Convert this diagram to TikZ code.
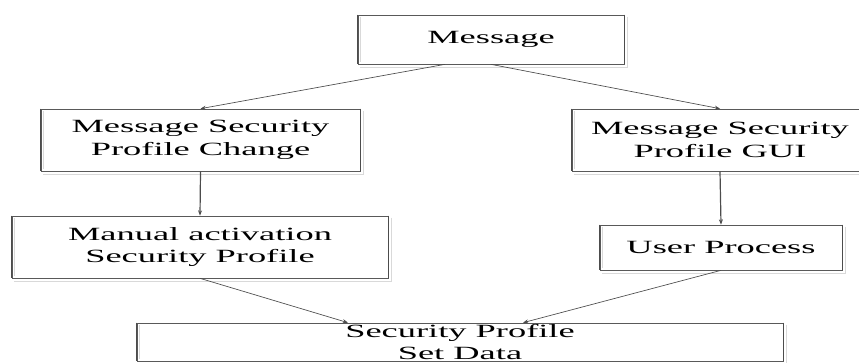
\documentclass[tikz,border=0pt]{standalone}
\usepackage{fontspec}
\setmainfont{Liberation Serif}[FakeStretch=1.95]
\usetikzlibrary{arrows.meta,calc}

\tikzset{
  box/.style={draw=black!65, line width=0.5pt, fill=white, align=center,
    inner sep=0pt, font=\fontsize{14}{17}\selectfont},
  link/.style={draw=black!70, line width=0.5pt,
    -{Stealth[length=4pt,width=3pt]}},
  stem/.style={link, line width=0.9pt},
  sidebar/.style={draw=black!70, line width=1.2pt},
  rim/.style={draw=black!15, line width=1pt}
}

\begin{document}
\begin{tikzpicture}[x=0.75pt,y=-0.75pt]
\useasboundingbox (0,0) rectangle (859,362);
% boxes
\node[box, minimum width=199.5pt, minimum height=36.75pt] (msg) at (491,39.5) {Message};
\node[box, minimum width=239.25pt, minimum height=46.5pt] (chg) at (200.5,140) {Message Security\\Profile Change};
\node[box, minimum width=222pt, minimum height=46.5pt] (gui) at (720,140) {Message Security\\Profile GUI};
\node[box, minimum width=282pt, minimum height=46.5pt] (man) at (200,247) {Manual activation\\Security Profile};
\node[box, minimum width=181.5pt, minimum height=33.75pt] (usr) at (721,247.5) {User Process};
\node[box, minimum width=484.5pt, minimum height=28.5pt] (set) at (460,342) {Security Profile\\Set Data};
% borders
\foreach \n in {msg,chg,gui,man,usr,set} {
  \draw[rim] ($(\n.north east)+(3,2)$) |- ($(\n.south west)+(2,3)$);
  \draw[rim] ($(\n.north west)+(3,2)$) -- ($(\n.south west)+(3,-2)$);
  \draw[sidebar] (\n.north west) -- (\n.south west) (\n.north east) -- (\n.south east);
}
% connectors
\draw[link] ($(msg.south)+(-46,0)$) -- (chg.north);
\draw[link] (msg.south) -- (gui.north);
\draw[stem] (chg.south) -- (man.north);
\draw[stem] (gui.south) -- (usr.north);
\draw[link] (man.south) -- ($(set.north)+(-112,0)$);
\draw[link] (usr.south) -- ($(set.north)+(63,0)$);
\end{tikzpicture}
\end{document}
